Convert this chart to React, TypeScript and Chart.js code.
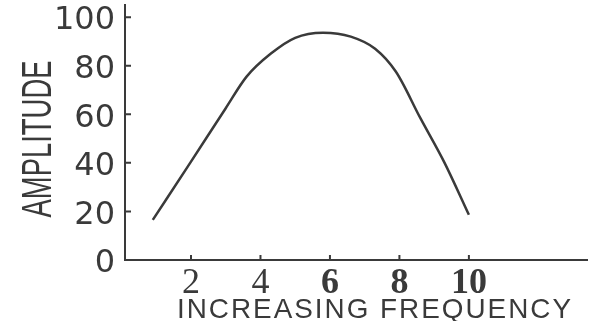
import React, { useEffect, useRef } from "react";
import { Chart, registerables } from "chart.js";

Chart.register(...registerables);

// Data
const frequency = [0.9, 2.0, 3.0, 3.6, 4.3, 5.0, 5.8, 6.6, 7.3, 7.9, 8.6, 9.3, 10.0];
const amplitude = [16.5, 40.5, 62.5, 75.5, 85, 91.5, 93.6, 92, 87, 77.5, 58.5, 40, 18.6];
const xTickValues = [2, 4, 6, 8, 10];
const yTickValues = [0, 20, 40, 60, 80, 100];
const xTitle = "INCREASING FREQUENCY";
const yTitle = "AMPLITUDE";

const INK = "#3a3a3a";

const decorPlugin = {
  id: "decor",
  afterDraw(chart: any) {
    const ctx = chart.ctx as CanvasRenderingContext2D;
    const xs = chart.scales.x;
    const ys = chart.scales.y;
    const area = chart.chartArea;
    ctx.save();
    // inward tick marks
    ctx.strokeStyle = INK;
    ctx.lineWidth = 2;
    ctx.beginPath();
    for (const v of yTickValues) {
      if (v === 0) continue;
      const py = ys.getPixelForValue(v);
      ctx.moveTo(area.left, py);
      ctx.lineTo(area.left + 6, py);
    }
    for (const v of xTickValues) {
      const px = xs.getPixelForValue(v);
      ctx.moveTo(px, area.bottom);
      ctx.lineTo(px, area.bottom - 5);
    }
    ctx.stroke();

    // y title, condensed, reading bottom to top
    ctx.fillStyle = INK;
    ctx.font = "42px 'Liberation Sans', Arial, sans-serif";
    ctx.textAlign = "center";
    ctx.textBaseline = "alphabetic";
    const yw = ctx.measureText(yTitle).width;
    ctx.save();
    ctx.translate(36, 139);
    ctx.rotate(-Math.PI / 2);
    ctx.scale(157 / yw, 1);
    ctx.fillText(yTitle, 0, 15);
    ctx.restore();

    // x title, spaced out
    ctx.font = "28px 'Liberation Sans', Arial, sans-serif";
    (ctx as any).letterSpacing = "2px";
    const xw = ctx.measureText(xTitle).width;
    ctx.save();
    ctx.translate(375, 308);
    ctx.scale(396 / xw, 1);
    ctx.fillText(xTitle, 0, 10);
    ctx.restore();
    ctx.restore();
  },
};

export default function App() {
  const ref = useRef<HTMLCanvasElement | null>(null);

  useEffect(() => {
    if (!ref.current) return;
    const chart = new Chart(ref.current, {
      type: "line",
      data: {
        datasets: [
          {
            data: frequency.map((f, i) => ({ x: f, y: amplitude[i] })),
            borderColor: INK,
            borderWidth: 2.5,
            pointRadius: 0,
            cubicInterpolationMode: "monotone",
            fill: false,
          },
        ],
      },
      options: {
        animation: false,
        responsive: false,
        devicePixelRatio: 1,
        layout: { padding: { top: 5, right: 6, left: 0, bottom: 0 } },
        plugins: { legend: { display: false }, tooltip: { enabled: false } },
        scales: {
          x: {
            type: "linear",
            min: 0.1,
            max: 13.4,
            afterBuildTicks: (scale: any) => {
              scale.ticks = xTickValues.map((v) => ({ value: v }));
            },
            afterFit: (scale: any) => {
              scale.height = 61;
              scale.paddingLeft = 0;
              scale.paddingRight = 0;
            },
            grid: { display: false, drawTicks: false },
            border: { display: true, color: INK, width: 2 },
            ticks: {
              padding: 2,
              color: INK,
              maxRotation: 0,
              font: (c: any) => ({
                family: "'Liberation Serif', 'Times New Roman', serif",
                size: 36,
                weight: c.tick && c.tick.value >= 6 ? "bold" : "normal",
              }),
              callback: (v: any) => String(v),
            },
          },
          y: {
            min: 0,
            max: 105,
            afterBuildTicks: (scale: any) => {
              scale.ticks = yTickValues.map((v) => ({ value: v }));
            },
            afterFit: (scale: any) => {
              scale.width = 125;
              scale.paddingTop = 0;
              scale.paddingBottom = 0;
            },
            grid: { display: false, drawTicks: false },
            border: { display: true, color: INK, width: 2 },
            ticks: {
              padding: 10,
              labelOffset: 4,
              color: INK,
              font: { family: "'DejaVu Sans', sans-serif", size: 32 },
              callback: (v: any) => String(v),
            },
          },
        },
      },
      plugins: [decorPlugin],
    });
    return () => chart.destroy();
  }, []);

  return (
    <div style={{ position: "fixed", left: 0, top: 0, width: 593, height: 321, background: "#fff" }}>
      <canvas ref={ref} width={593} height={321} />
    </div>
  );
}
